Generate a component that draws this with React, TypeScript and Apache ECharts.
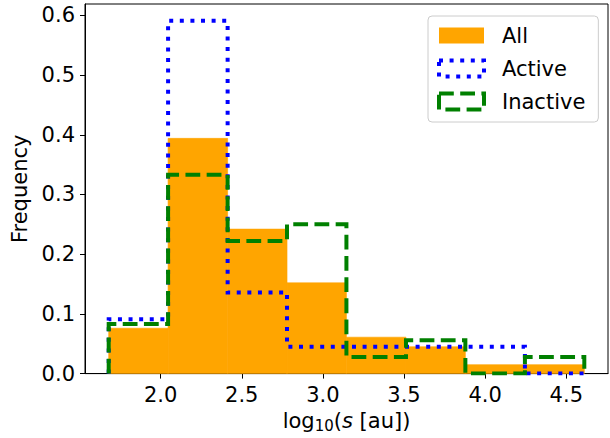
import React, { useEffect, useRef } from "react";
import * as echarts from "echarts";

// Histogram bin edges in log10(s [au])
const binEdges = [1.68, 2.046, 2.413, 2.779, 3.145, 3.512, 3.878, 4.245, 4.611];

// Fraction of objects per bin
const allFreq = [0.076, 0.394, 0.242, 0.152, 0.061, 0.045, 0.015, 0.015];
const activeFreq = [0.091, 0.591, 0.136, 0.045, 0.045, 0.045, 0.045, 0.0];
const inactiveFreq = [0.083, 0.333, 0.222, 0.25, 0.028, 0.056, 0.0, 0.028];

const xTicks = [2.0, 2.5, 3.0, 3.5, 4.0, 4.5];
const yTicks = [0.0, 0.1, 0.2, 0.3, 0.4, 0.5, 0.6];

const FONT = "DejaVu Sans";
const FS = 21;
const ORANGE = "#ffa500";
const BLUE = "#0000ff";
const GREEN = "#008000";

// Outline of a step histogram: up the first edge, across each bin, down the last edge
function stepOutline(edges: number[], values: number[]): number[][] {
  const pts: number[][] = [[edges[0], 0]];
  values.forEach((v, i) => {
    pts.push([edges[i], v]);
    pts.push([edges[i + 1], v]);
  });
  pts.push([edges[edges.length - 1], 0]);
  return pts;
}

export default function App() {
  const ref = useRef<HTMLDivElement>(null);

  useEffect(() => {
    document.body.style.margin = "0";
    const chart = echarts.init(ref.current!, null, { renderer: "svg" });

    const barData = allFreq.map((v, i) => [binEdges[i], binEdges[i + 1], v]);
    const dotted = [4, 6.6];
    const dashed = [14.8, 6.4];

    chart.setOption({
      animation: false,
      backgroundColor: "#ffffff",
      textStyle: { fontFamily: FONT, color: "#000" },
      grid: {
        left: 85,
        right: 2,
        top: 4,
        bottom: 59,
        show: true,
        borderColor: "#000",
        borderWidth: 1,
        containLabel: false,
      },
      legend: {
        orient: "vertical",
        left: 428,
        top: 16,
        padding: [9, 13, 10, 9],
        itemGap: 12,
        itemWidth: 45,
        itemHeight: 16,
        borderColor: "#cccccc",
        borderWidth: 1,
        borderRadius: 4,
        backgroundColor: "rgba(255,255,255,0.8)",
        textStyle: {
          fontFamily: FONT,
          fontSize: FS,
          color: "#000",
          lineHeight: 21,
          padding: [0, 0, 0, 13],
        },
        data: [
          { name: "All", icon: "rect", itemStyle: { color: ORANGE, borderWidth: 0 } },
          {
            name: "Active",
            icon: "rect",
            itemStyle: {
              color: "transparent",
              borderColor: BLUE,
              borderWidth: 4,
              borderType: dotted,
            },
          },
          {
            name: "Inactive",
            icon: "rect",
            itemStyle: {
              color: "transparent",
              borderColor: GREEN,
              borderWidth: 4,
              borderType: dashed,
            },
          },
        ],
      },
      xAxis: {
        type: "value",
        min: 1.534,
        max: 4.757,
        name: "log{sub|10}({it|s} [au])",
        nameLocation: "middle",
        nameGap: 35,
        nameTextStyle: {
          fontFamily: FONT,
          fontSize: FS,
          color: "#000",
          rich: {
            sub: { fontFamily: FONT, fontSize: 15, padding: [9, 0, 0, 0] },
            it: { fontFamily: FONT, fontSize: FS, fontStyle: "italic" },
          },
        },
        axisLine: { show: true, lineStyle: { color: "#000", width: 1 } },
        axisTick: {
          show: true,
          length: 5,
          customValues: xTicks,
          lineStyle: { color: "#000", width: 1 },
        },
        axisLabel: {
          customValues: xTicks,
          margin: 11,
          fontFamily: FONT,
          fontSize: FS,
          color: "#000",
          formatter: (v: number) => v.toFixed(1),
        },
        splitLine: { show: false },
      },
      yAxis: {
        type: "value",
        min: 0,
        max: 0.619,
        name: "Frequency",
        nameLocation: "middle",
        nameRotate: 90,
        nameGap: 50,
        nameTextStyle: { fontFamily: FONT, fontSize: FS, color: "#000" },
        axisLine: { show: true, lineStyle: { color: "#000", width: 1 } },
        axisTick: {
          show: true,
          length: 5,
          customValues: yTicks,
          lineStyle: { color: "#000", width: 1 },
        },
        axisLabel: {
          customValues: yTicks,
          margin: 10,
          fontFamily: FONT,
          fontSize: FS,
          color: "#000",
          formatter: (v: number) => v.toFixed(1),
        },
        splitLine: { show: false },
      },
      series: [
        {
          name: "All",
          type: "custom",
          data: barData,
          encode: { x: [0, 1], y: 2 },
          itemStyle: { color: ORANGE },
          renderItem: (params: any, api: any) => {
            const top = api.coord([api.value(0), api.value(2)]);
            const base = api.coord([api.value(1), 0]);
            return {
              type: "rect",
              shape: {
                x: top[0],
                y: top[1],
                width: base[0] - top[0],
                height: base[1] - top[1],
              },
              style: { fill: ORANGE, stroke: ORANGE, lineWidth: 0.6 },
            };
          },
          z: 1,
        },
        {
          name: "Active",
          type: "line",
          data: stepOutline(binEdges, activeFreq),
          symbol: "none",
          lineStyle: { color: BLUE, width: 4, type: dotted, cap: "butt", join: "miter" },
          itemStyle: { color: BLUE },
          z: 2,
        },
        {
          name: "Inactive",
          type: "line",
          data: stepOutline(binEdges, inactiveFreq),
          symbol: "none",
          lineStyle: { color: GREEN, width: 4, type: dashed, cap: "butt", join: "miter" },
          itemStyle: { color: GREEN },
          z: 3,
        },
      ],
    });

    return () => chart.dispose();
  }, []);

  return <div ref={ref} style={{ width: 610, height: 438 }} />;
}
